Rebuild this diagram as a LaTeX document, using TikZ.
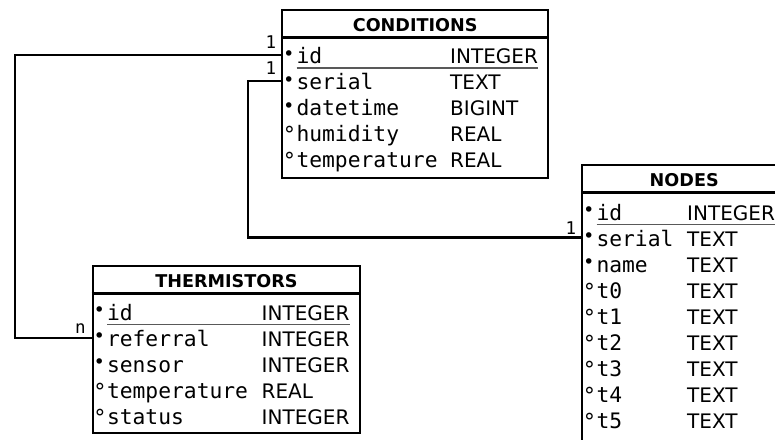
\documentclass[tikz,border=0pt]{standalone}
\usepackage{fontspec}
\newfontfamily\monof{DejaVu Sans Mono}
\newfontfamily\sansf{DejaVu Sans}
% one mono cell holding a filled (required) or open (optional) column marker
\newcommand{\fk}{\makebox[12.82pt][l]{\hspace{-0.6pt}\raisebox{3.2pt}{\fontsize{19}{19}\selectfont •}}}
\newcommand{\ok}{\makebox[12.82pt][l]{\hspace{-0.8pt}\raisebox{-1.2pt}{\fontsize{22}{22}\selectfont °}}}
\begin{document}
\begin{tikzpicture}[x=1pt,y=-1pt,
  tbl/.style={draw=black, line width=2.4pt, rectangle, inner sep=0pt, anchor=north west},
  sep/.style={draw=black, line width=2.4pt},
  hdr/.style={font=\sansf\bfseries\fontsize{17.6}{20}\selectfont, inner sep=0pt, anchor=base},
  fname/.style={font=\monof\fontsize{21.3}{24}\selectfont, inner sep=0pt, anchor=base west},
  ftype/.style={font=\sansf\fontsize{20}{24}\selectfont, inner sep=0pt, anchor=base west},
  card/.style={font=\monof\fontsize{17.5}{18}\selectfont, inner sep=0pt, anchor=base},
  link/.style={draw=black, line width=2.5pt},
  keyline/.style={draw=black!65, line width=1.6pt}]
\useasboundingbox (0,0) rectangle (775,439);
\fill[white] (0,0) rectangle (775,439);

% ---------- CONDITIONS ----------
\node[tbl, minimum width=266pt, minimum height=168pt] (cond) at (281,9) {};
\draw[sep] ([yshift=-28.5pt]cond.north west) -- ([yshift=-28.5pt]cond.north east);
\node[hdr] (cond-title) at ([yshift=-22pt]cond.north) {CONDITIONS};
\node[fname] (cond-n1) at (283.5,63.5) {\fk id};
\node[fname] (cond-n2) at (283.5,89.5) {\fk serial};
\node[fname] (cond-n3) at (283.5,115.5) {\fk datetime};
\node[fname] (cond-n4) at (283.5,141.5) {\ok humidity};
\node[fname] (cond-n5) at (283.5,167.5) {\ok temperature};
\node[ftype] (cond-t1) at (450,63.5) {INTEGER};
\node[ftype] (cond-t2) at (450,89.5) {TEXT};
\node[ftype] (cond-t3) at (450,115.5) {BIGINT};
\node[ftype] (cond-t4) at (450,141.5) {REAL};
\node[ftype] (cond-t5) at (450,167.5) {REAL};
\draw[keyline] (296.5,67.8) -- (538,67.8);
\coordinate (cond-id-port) at (281,55);
\coordinate (cond-serial-port) at (281,81);

% ---------- NODES ----------
\node[tbl, minimum width=204pt, minimum height=290pt] (nodes) at (581,164) {};
\draw[sep] ([yshift=-28.5pt]nodes.north west) -- ([yshift=-28.5pt]nodes.north east);
\node[hdr] (nodes-title) at ([yshift=-22.5pt]nodes.north) {NODES};
\node[fname] (nodes-n1) at (583.5,220) {\fk id};
\node[fname] (nodes-n2) at (583.5,246) {\fk serial};
\node[fname] (nodes-n3) at (583.5,272) {\fk name};
\node[fname] (nodes-n4) at (583.5,298) {\ok t0};
\node[fname] (nodes-n5) at (583.5,324) {\ok t1};
\node[fname] (nodes-n6) at (583.5,350) {\ok t2};
\node[fname] (nodes-n7) at (583.5,376) {\ok t3};
\node[fname] (nodes-n8) at (583.5,402) {\ok t4};
\node[fname] (nodes-n9) at (583.5,428) {\ok t5};
\node[ftype] (nodes-t1) at (687,220) {INTEGER};
\node[ftype] (nodes-t2) at (687,246) {TEXT};
\node[ftype] (nodes-t3) at (687,272) {TEXT};
\node[ftype] (nodes-t4) at (687,298) {TEXT};
\node[ftype] (nodes-t5) at (687,324) {TEXT};
\node[ftype] (nodes-t6) at (687,350) {TEXT};
\node[ftype] (nodes-t7) at (687,376) {TEXT};
\node[ftype] (nodes-t8) at (687,402) {TEXT};
\node[ftype] (nodes-t9) at (687,428) {TEXT};
\draw[keyline] (596.5,224.3) -- (775,224.3);
\coordinate (nodes-serial-port) at (581,237.5);

% ---------- THERMISTORS ----------
\node[tbl, minimum width=267.5pt, minimum height=167pt] (therm) at (91.5,265) {};
\draw[sep] ([yshift=-28.5pt]therm.north west) -- ([yshift=-28.5pt]therm.north east);
\node[hdr] (therm-title) at ([yshift=-22pt]therm.north) {THERMISTORS};
\node[fname] (therm-n1) at (94,320) {\fk id};
\node[fname] (therm-n2) at (94,346) {\fk referral};
\node[fname] (therm-n3) at (94,372) {\fk sensor};
\node[fname] (therm-n4) at (94,398) {\ok temperature};
\node[fname] (therm-n5) at (94,424) {\ok status};
\node[ftype] (therm-t1) at (261.5,320) {INTEGER};
\node[ftype] (therm-t2) at (261.5,346) {INTEGER};
\node[ftype] (therm-t3) at (261.5,372) {INTEGER};
\node[ftype] (therm-t4) at (261.5,398) {REAL};
\node[ftype] (therm-t5) at (261.5,424) {INTEGER};
\draw[keyline] (107,324.3) -- (349.5,324.3);
\coordinate (therm-ref-port) at (91.5,338);

% ---------- relations ----------
\draw[link] (cond-id-port) -- ++(-266,0) |- (therm-ref-port);
\draw[link] (cond-serial-port) -- ++(-33,0) |- (nodes-serial-port);

% ---------- cardinalities ----------
\node[card, xshift=-10pt, yshift=7pt] (card-cid) at (cond-id-port) {1};
\node[card, xshift=-10pt, yshift=6.5pt] (card-cser) at (cond-serial-port) {1};
\node[card, xshift=-10pt, yshift=3.5pt] (card-nser) at (nodes-serial-port) {1};
\node[card, xshift=-11pt, yshift=5pt] (card-tref) at (therm-ref-port) {n};
\end{tikzpicture}
\end{document}
